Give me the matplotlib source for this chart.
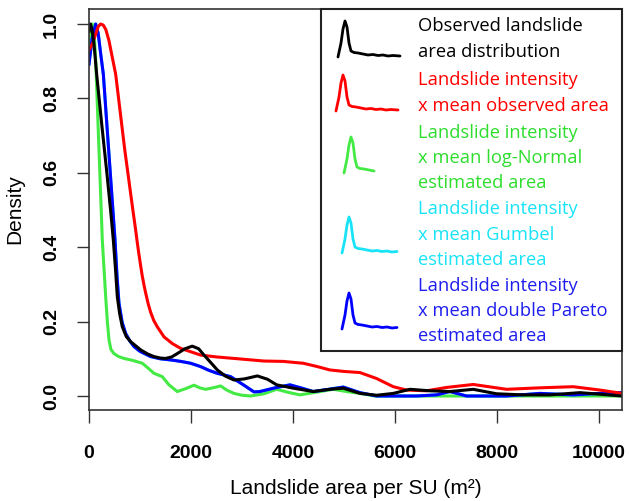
import matplotlib
matplotlib.use("Agg")
import matplotlib.pyplot as plt
from matplotlib.patches import Rectangle

# ---------------- data ----------------
obs_x = [0, 15, 30, 60, 98, 150, 250, 350, 430, 477, 520, 555, 600, 653, 730, 817,
         1013, 1150, 1274, 1400, 1503, 1620, 1731, 1880, 2025, 2150, 2254, 2400,
         2515, 2680, 2842, 3050, 3300, 3500, 3679, 4005, 4397, 4724, 4986, 5312,
         5639, 5966, 6292, 6684, 7076, 7533, 7990, 8513, 9036, 9624, 10000, 10450]
obs_y = [0.98, 0.995, 1.0, 0.985, 0.946, 0.865, 0.73, 0.60, 0.49, 0.419, 0.34,
         0.267, 0.222, 0.186, 0.160, 0.146, 0.124, 0.113, 0.106, 0.102, 0.101,
         0.105, 0.114, 0.127, 0.134, 0.127, 0.110, 0.088, 0.070, 0.053, 0.043,
         0.046, 0.054, 0.045, 0.030, 0.021, 0.012, 0.018, 0.021, 0.007, 0.002,
         0.007, 0.018, 0.014, 0.012, 0.018, 0.006, 0.003, 0.003, 0.009, 0.005,
         0.0]

red_x = [0, 40, 72, 131, 180, 229, 280, 330, 392, 457, 523, 700, 860, 915, 947,
         980, 1015, 1045, 1080, 1111, 1160, 1209, 1270, 1339, 1470, 1633, 1797,
         1993, 2189, 2500, 2842, 3430, 3809, 4201, 4450, 4724, 5000, 5312, 5639,
         5966, 6227, 6619, 7011, 7533, 8186, 8840, 9493, 10016, 10450]
red_y = [0.93, 0.94, 0.948, 0.973, 0.993, 1.0, 0.997, 0.985, 0.955, 0.91, 0.865,
         0.663, 0.50, 0.446, 0.412, 0.380, 0.348, 0.322, 0.297, 0.277, 0.248,
         0.225, 0.203, 0.186, 0.159, 0.141, 0.128, 0.119, 0.110, 0.105, 0.101,
         0.094, 0.093, 0.088, 0.080, 0.070, 0.066, 0.063, 0.047, 0.025, 0.016,
         0.014, 0.023, 0.031, 0.018, 0.022, 0.025, 0.016, 0.007]

lnorm_x = [0, 30, 65, 100, 131, 200, 261, 327, 360, 392, 430, 490, 580, 686, 850,
           1045, 1150, 1274, 1437, 1568, 1731, 1900, 2058, 2170, 2287, 2430, 2581,
           2700, 2842, 3000, 3169, 3430, 3679, 3900, 4136, 4450, 4789, 5050, 5312,
           5600, 6500, 8000, 9500, 10450]
lnorm_y = [0.92, 0.97, 1.0, 0.975, 0.903, 0.646, 0.419, 0.267, 0.20, 0.151, 0.125,
           0.114, 0.106, 0.101, 0.096, 0.088, 0.076, 0.061, 0.052, 0.030, 0.012,
           0.020, 0.029, 0.022, 0.018, 0.022, 0.027, 0.016, 0.007, 0.002, 0.0,
           0.006, 0.018, 0.010, 0.003, 0.010, 0.018, 0.012, 0.007, 0.0, 0.0, 0.0,
           0.0, 0.0]

dpar_x = [0, 60, 131, 180, 229, 281, 400, 510, 550, 588, 650, 719, 800, 882, 1000,
          1209, 1400, 1601, 1800, 1993, 2189, 2350, 2515, 2777, 3038, 3234, 3352,
          3650, 3940, 4150, 4397, 4700, 4986, 5312, 5639, 6423, 6815, 7076, 7403,
          8186, 8840, 9493, 10277, 10450]
dpar_y = [0.892, 0.96, 1.0, 0.975, 0.92, 0.865, 0.633, 0.419, 0.32, 0.249, 0.198,
          0.168, 0.148, 0.133, 0.120, 0.106, 0.100, 0.097, 0.093, 0.088, 0.079,
          0.069, 0.061, 0.052, 0.029, 0.011, 0.012, 0.022, 0.030, 0.022, 0.012,
          0.018, 0.024, 0.009, 0.0, 0.0, 0.003, 0.012, 0.0, 0.0, 0.007, 0.003,
          0.009, 0.009]

# Gumbel curve coincides with the double Pareto curve (hidden beneath it)
gumb_x = list(dpar_x)
gumb_y = list(dpar_y)

x_ticks = [0, 2000, 4000, 6000, 8000, 10000]
y_ticks = [0.0, 0.2, 0.4, 0.6, 0.8, 1.0]

legend_lines = [
    ["Observed landslide", "area distribution"],
    ["Landslide intensity", "x mean observed area"],
    ["Landslide intensity", "x mean log-Normal", "estimated area"],
    ["Landslide intensity", "x mean Gumbel", "estimated area"],
    ["Landslide intensity", "x mean double Pareto", "estimated area"],
]

# small density-shaped legend icon (pixel offsets from its start)
icon_dx = [0, 3, 5, 7, 9, 11, 13, 16, 20, 25, 30, 35, 40, 45, 50, 55, 62]
icon_dy = [0, 14, 28, 36, 30, 14, 6, 4.5, 4, 3, 2, 2.5, 1.5, 2, 1, 1.5, 1]

# ---------------- style ----------------
C_BLACK = "#000000"
C_RED = "#FF0000"
C_GREEN = "#44EA44"
C_CYAN = "#19E3F7"
C_BLUE = "#0000FF"
TXT_GREEN = "#2EDD2E"
TXT_BLUE = "#1E1EEE"

W, H = 629, 501
fig = plt.figure(figsize=(W / 100, H / 100), dpi=100)

L, R, T, B = 89, 622, 9, 410
ax = fig.add_axes([L / W, 1 - B / H, (R - L) / W, (B - T) / H])

lw = 2.2
ax.plot(lnorm_x, lnorm_y, color=C_GREEN, lw=lw, solid_joinstyle="round")
ax.plot(gumb_x, gumb_y, color=C_CYAN, lw=lw, solid_joinstyle="round")
ax.plot(dpar_x, dpar_y, color=C_BLUE, lw=lw, solid_joinstyle="round")
ax.plot(red_x, red_y, color=C_RED, lw=lw, solid_joinstyle="round")
ax.plot(obs_x, obs_y, color=C_BLACK, lw=lw, solid_joinstyle="round")

ax.set_xlim(0, 10450)
ax.set_ylim(-14 / 372, 1 + 15 / 372)

ax.set_xticks(x_ticks)
ax.set_xticklabels([str(v) for v in x_ticks])
ax.set_yticks(y_ticks)
ax.set_yticklabels([f"{v:.1f}" for v in y_ticks], rotation=90, va="center")

for lab in ax.get_xticklabels() + ax.get_yticklabels():
    lab.set_fontfamily("Liberation Sans")
    lab.set_fontweight("bold")
    lab.set_fontsize(14)

ax.tick_params(axis="both", direction="out", length=9, width=1.0, color="#333333")
ax.tick_params(axis="x", pad=16)
ax.tick_params(axis="y", pad=12)
for s in ax.spines.values():
    s.set_color("#333333")
    s.set_linewidth(1.2)

fig.text((L + R) / 2 / W, 1 - 489 / H, "Landslide area per SU (m²)",
         family="Liberation Sans", fontsize=15, ha="center", va="center")
fig.text(15 / W, 1 - 209.5 / H, "Density", family="Liberation Sans",
         fontsize=15, rotation=90, ha="center", va="center")

# ---------------- legend overlay (pixel coordinates) ----------------
ov = fig.add_axes([0, 0, 1, 1])
ov.set_xlim(0, W)
ov.set_ylim(H, 0)
ov.axis("off")

ov.add_patch(Rectangle((321, 9), R - 321, 351 - 9, facecolor="white",
                       edgecolor="#222222", lw=1.5, zorder=1))

icon_colors = [C_BLACK, C_RED, C_GREEN, C_CYAN, C_BLUE]
text_colors = [C_BLACK, C_RED, TXT_GREEN, C_CYAN, TXT_BLUE]
icon_start = [(338, 57), (336, 111), (344, 173), (342, 253), (342, 329)]
icon_len = [62, 62, 34, 58, 58]
text_rows = [[26, 52], [80, 106], [133, 158, 183], [209, 235, 260], [286, 311, 336]]

for k in range(5):
    x0, y0 = icon_start[k]
    xs, ys = [], []
    for dx, dy in zip(icon_dx, icon_dy):
        if dx <= icon_len[k]:
            xs.append(x0 + dx)
            ys.append(y0 - dy)
    ov.plot(xs, ys, color=icon_colors[k], lw=2.0, zorder=2,
            solid_capstyle="round", solid_joinstyle="round")
    for line, yy in zip(legend_lines[k], text_rows[k]):
        ov.text(418, yy, line, color=text_colors[k], family="Open Sans",
                fontsize=13.2, ha="left", va="center", zorder=3)

fig.savefig("out.png", dpi=100)
